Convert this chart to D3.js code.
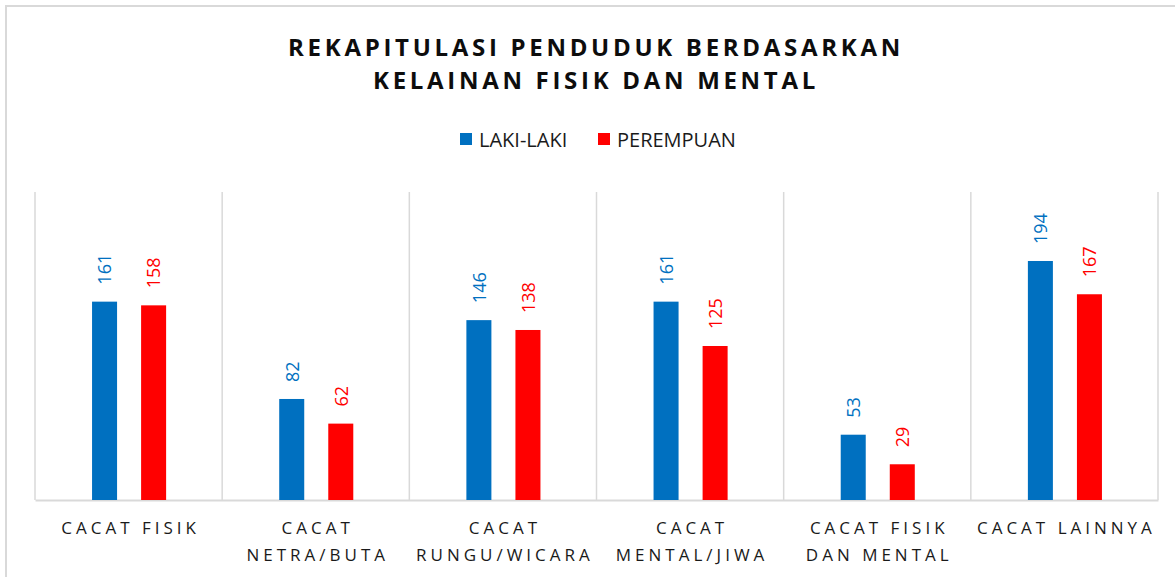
<!DOCTYPE html>
<html>
<head>
<meta charset="utf-8">
<script src="https://cdn.jsdelivr.net/npm/d3@7"></script>
<style>
    body { margin: 0; background: #fff; }
    svg { display: block; font-family: "Open Sans", "Noto Sans", sans-serif; }
</style>
</head>
<body>
<svg id="chart" width="1175" height="577"></svg>
<script>
// data
const categories = ["CACAT FISIK", "CACAT NETRA/BUTA", "CACAT RUNGU/WICARA", "CACAT MENTAL/JIWA", "CACAT FISIK DAN MENTAL", "CACAT LAINNYA"];
const categoryLines = [["CACAT FISIK"], ["CACAT", "NETRA/BUTA"], ["CACAT", "RUNGU/WICARA"], ["CACAT", "MENTAL/JIWA"], ["CACAT FISIK", "DAN MENTAL"], ["CACAT LAINNYA"]];
const seriesNames = ["LAKI-LAKI", "PEREMPUAN"];
const lakiLaki = [161, 82, 146, 161, 53, 194];
const perempuan = [158, 62, 138, 125, 29, 167];
const seriesColors = ["#0070C0", "#FF0000"];
const titleLines = ["REKAPITULASI PENDUDUK BERDASARKAN", "KELAINAN FISIK DAN MENTAL"];

const svg = d3.select("#chart");
const margin = { top: 192, right: 17, bottom: 77, left: 35 };
const width = 1175, height = 577;

// outer chart border (right and bottom edges fall outside the picture)
svg.append("rect")
    .attr("x", 6).attr("y", 6)
    .attr("width", 1200).attr("height", 600)
    .attr("fill", "#fff")
    .attr("stroke", "#d9d9d9")
    .attr("stroke-width", 2);

const x0 = d3.scaleBand()
    .domain(categories)
    .range([margin.left, width - margin.right]);

const bw = x0.bandwidth();
const x1 = d3.scaleBand()
    .domain(seriesNames)
    .range([bw * 57 / 187, bw * 131 / 187])
    .paddingInner(0.49);

const y = d3.scaleLinear()
    .domain([0, 250])
    .range([height - margin.bottom, margin.top]);

// vertical separators between categories
const bounds = categories.map(c => x0(c)).concat([x0.range()[1]]);
svg.append("g")
    .selectAll("line")
    .data(bounds)
    .enter()
    .append("line")
    .attr("x1", d => d).attr("x2", d => d)
    .attr("y1", y(250)).attr("y2", y(0))
    .attr("stroke", "#d9d9d9")
    .attr("stroke-width", 1.5);

// bottom axis
const xAxis = svg.append("g")
    .attr("transform", `translate(0,${y(0)})`)
    .call(d3.axisBottom(x0).tickSize(0).tickFormat(""));
xAxis.select(".domain").attr("stroke", "#d9d9d9").attr("stroke-width", 2);

// category labels, wrapped like the reference
const catLabels = svg.append("g")
    .selectAll("text")
    .data(categories)
    .enter()
    .append("text")
    .attr("y", 534)
    .attr("text-anchor", "middle")
    .attr("fill", "#1a1a1a")
    .style("font-size", "17px")
    .style("letter-spacing", "4px");
catLabels.each(function (d, i) {
    const t = d3.select(this);
    categoryLines[i].forEach((line, j) => {
        t.append("tspan")
            .attr("x", x0(d) + bw / 2 + 2)
            .attr("dy", j === 0 ? 0 : 27)
            .text(line);
    });
});

// bars
const seriesValues = [lakiLaki, perempuan];
const rows = [];
categories.forEach((c, i) => {
    seriesNames.forEach((s, k) => {
        rows.push({ cat: c, series: s, value: seriesValues[k][i], color: seriesColors[k] });
    });
});

svg.append("g")
    .selectAll("rect")
    .data(rows)
    .enter()
    .append("rect")
    .attr("x", d => x0(d.cat) + x1(d.series))
    .attr("y", d => y(d.value))
    .attr("width", x1.bandwidth())
    .attr("height", d => y(0) - y(d.value))
    .attr("fill", d => d.color);

// value labels, rotated
svg.append("g")
    .selectAll("text")
    .data(rows)
    .enter()
    .append("text")
    .attr("transform", d => `translate(${x0(d.cat) + x1(d.series) + x1.bandwidth() / 2 + 0.5},${y(d.value) - 17}) rotate(-90)`)
    .attr("dy", "0.35em")
    .attr("text-anchor", "start")
    .attr("fill", d => d.color)
    .style("font-size", "18px")
    .text(d => d.value);

// title
svg.append("g")
    .selectAll("text")
    .data(titleLines)
    .enter()
    .append("text")
    .attr("x", 596)
    .attr("y", (d, i) => 56 + i * 33)
    .attr("text-anchor", "middle")
    .attr("fill", "#0d0d0d")
    .style("font-size", "24px")
    .style("font-weight", "bold")
    .style("letter-spacing", "3.7px")
    .text(d => d);

// legend
const legendX = [460, 598];
const legend = svg.append("g")
    .selectAll("g")
    .data(seriesNames)
    .enter()
    .append("g")
    .attr("transform", (d, i) => `translate(${legendX[i]},133)`);
legend.append("rect")
    .attr("width", 12).attr("height", 12)
    .attr("fill", (d, i) => seriesColors[i]);
legend.append("text")
    .attr("x", 19).attr("y", 13.5)
    .attr("fill", "#1a1a1a")
    .style("font-size", "20px")
    .text(d => d);
</script>
</body>
</html>
